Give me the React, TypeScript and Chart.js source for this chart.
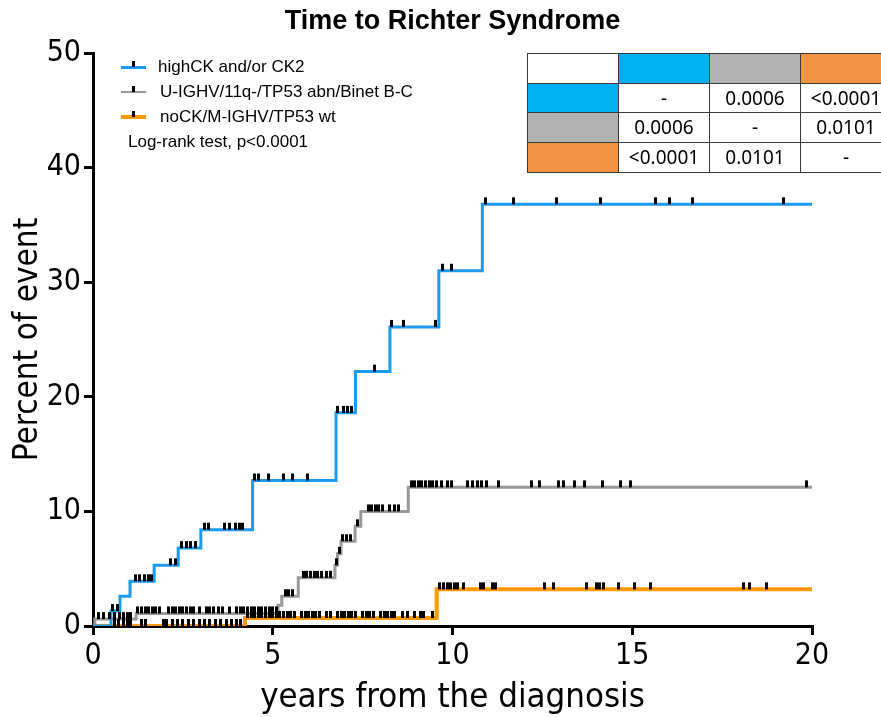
import React, { useEffect, useRef } from 'react';
import { Chart, registerables } from 'chart.js';

Chart.register(...registerables);

// ---------- data ----------
const chartTitle = 'Time to Richter Syndrome';
const xTitle = 'years from the diagnosis';
const yTitle = 'Percent of event';
const xTicks = [0, 5, 10, 15, 20];
const yTicks = [0, 10, 20, 30, 40, 50];
const seriesNames = ['highCK and/or CK2', 'U-IGHV/11q-/TP53 abn/Binet B-C', 'noCK/M-IGHV/TP53 wt'];
const testText = 'Log-rank test, p<0.0001';

// step curves: time of each step and the level after the step
const blueTimes = [0, 0.5, 0.75, 1.03, 1.7, 2.37, 3.0, 4.44, 6.76, 7.3, 8.26, 9.62, 10.83, 20];
const blueLevels = [0, 1.3, 2.6, 3.9, 5.3, 6.8, 8.4, 12.7, 18.6, 22.2, 26.1, 31.0, 36.8, 36.8];
const blueCensored = [0.55, 0.68, 1.17, 1.3, 1.42, 1.55, 1.63, 2.16, 2.3, 2.47, 2.6, 2.72, 2.84, 3.09, 3.2, 3.67, 3.8, 3.95, 4.08, 4.17, 4.5, 4.6, 4.88, 5.29, 5.54, 5.97, 6.8, 6.96, 7.08, 7.2, 7.82, 8.3, 8.63, 9.53, 9.73, 9.98, 10.93, 11.71, 12.9, 14.12, 15.64, 16.03, 16.68, 19.22];

const grayTimes = [0, 0.05, 1.2, 5.15, 5.25, 5.71, 6.73, 6.8, 6.9, 7.29, 7.45, 8.77, 20];
const grayLevels = [0, 0.6, 1.1, 1.8, 2.6, 4.2, 5.3, 6.3, 7.4, 8.7, 10.0, 12.1, 12.1];
const grayCensored = [0.15, 0.3, 0.45, 0.6, 0.75, 0.85, 0.95, 1.05, 1.25, 1.35, 1.45, 1.55, 1.65, 1.75, 1.85, 2.1, 2.2, 2.3, 2.4, 2.5, 2.6, 2.7, 2.8, 2.95, 3.15, 3.25, 3.35, 3.5, 3.6, 3.8, 4.0, 4.1, 4.2, 4.3, 4.4, 4.5, 4.6, 4.7, 4.8, 4.9, 5.0, 5.1, 5.35, 5.45, 5.55, 5.85, 5.95, 6.05, 6.15, 6.25, 6.35, 6.5, 6.6, 6.76, 6.85, 6.95, 7.05, 7.15, 7.35, 7.65, 7.75, 7.85, 7.95, 8.05, 8.25, 8.4, 8.5, 8.86, 8.95, 9.05, 9.15, 9.25, 9.35, 9.45, 9.55, 9.7, 9.85, 9.98, 10.43, 10.55, 10.7, 10.8, 10.95, 11.27, 12.2, 12.43, 12.94, 13.1, 13.4, 13.67, 14.18, 14.68, 14.94, 19.85];

const orangeTimes = [0, 4.23, 9.56, 20];
const orangeLevels = [0, 0.7, 3.2, 3.2];
const orangeCensored = [0.6, 0.7, 0.85, 0.95, 1.05, 1.35, 1.45, 1.95, 2.05, 2.2, 2.35, 2.5, 2.65, 2.8, 2.95, 3.1, 3.25, 3.4, 3.55, 3.7, 3.85, 4.0, 4.1, 4.3, 4.4, 4.5, 4.6, 4.7, 4.8, 4.9, 5.0, 5.1, 5.2, 5.3, 5.4, 5.5, 5.6, 5.8, 5.9, 6.0, 6.1, 6.2, 6.3, 6.5, 6.6, 6.8, 6.9, 7.0, 7.1, 7.2, 7.3, 7.5, 7.6, 7.7, 7.8, 8.0, 8.1, 8.2, 8.3, 8.4, 8.6, 8.75, 8.95, 9.1, 9.2, 9.45, 9.65, 9.75, 9.85, 9.95, 10.05, 10.15, 10.3, 10.77, 10.87, 11.1, 11.2, 12.55, 12.8, 13.73, 14.0, 14.1, 14.2, 14.63, 15.06, 15.51, 18.09, 18.25, 18.74];

const tableColors = ['#00b0f0', '#b2b2b2', '#f29443'];
const pValues = [
  ['-', '0.0006', '<0.0001'],
  ['0.0006', '-', '0.0101'],
  ['<0.0001', '0.0101', '-'],
];

// ---------- styles ----------
const lineColors = ['#1a9bf0', '#999999', '#ff9900'];
const lineWidths = [3, 3, 4];
const NARROW = "'Liberation Sans Narrow', 'Arial Narrow', 'DejaVu Sans Condensed', sans-serif";
const SANS = "'Liberation Sans', Arial, sans-serif";

function levelAt(times: number[], levels: number[], t: number) {
  let v = levels[0];
  for (let i = 0; i < times.length; i++) if (times[i] <= t) v = levels[i];
  return v;
}

export default function App() {
  const ref = useRef<HTMLCanvasElement>(null);

  useEffect(() => {
    if (!ref.current) return;
    const mark = document.createElement('canvas');
    mark.width = 3;
    mark.height = 16;
    const mctx = mark.getContext('2d')!;
    mctx.fillStyle = '#000';
    mctx.fillRect(0, 1, 3, 7);

    const curves = [
      [blueTimes, blueLevels, blueCensored],
      [grayTimes, grayLevels, grayCensored],
      [orangeTimes, orangeLevels, orangeCensored],
    ] as number[][][];

    const censorSets = curves.map(([t, l, c], i) => ({
      label: seriesNames[i] + ' censored',
      data: c.map((x) => ({ x, y: levelAt(t, l, x) })),
      showLine: false,
      pointStyle: mark as any,
      pointRadius: 4,
      pointHoverRadius: 4,
      borderColor: '#000',
      backgroundColor: '#000',
    }));
    const lineSets = curves.map(([t, l], i) => ({
      label: seriesNames[i],
      data: t.map((x, j) => ({ x, y: l[j] })),
      stepped: 'before' as const,
      borderColor: lineColors[i],
      borderWidth: lineWidths[i],
      pointRadius: 0,
      fill: false,
    }));

    const chart = new Chart(ref.current, {
      type: 'line',
      data: { datasets: [...censorSets, ...lineSets] as any },
      options: {
        animation: false,
        responsive: false,
        layout: { padding: { left: 0, right: 69, top: 0, bottom: 0 } },
        plugins: {
          legend: { display: false },
          tooltip: { enabled: false },
          title: {
            display: true,
            text: chartTitle,
            fullSize: false,
            color: '#000',
            font: { family: SANS, size: 27, weight: 'bold', lineHeight: 1.2 },
            padding: { top: 5, bottom: 15.6 },
          },
        },
        scales: {
          x: {
            type: 'linear',
            min: 0,
            max: 20,
            afterBuildTicks: (s: any) => {
              s.ticks = xTicks.map((v) => ({ value: v }));
            },
            afterFit: (s: any) => {
              s.height = 91;
            },
            grid: { display: true, drawOnChartArea: false, drawTicks: true, tickLength: 9, color: '#000', lineWidth: 3 },
            border: { display: true, color: '#000', width: 3 },
            ticks: { color: '#000', font: { family: NARROW, size: 30 }, padding: 3, maxRotation: 0 },
            title: {
              display: true,
              text: xTitle,
              color: '#000',
              font: { family: NARROW, size: 34.5, lineHeight: 1.0 },
              padding: { top: 0, bottom: 2 },
            },
          },
          y: {
            type: 'linear',
            min: 0,
            max: 50,
            afterBuildTicks: (s: any) => {
              s.ticks = yTicks.map((v) => ({ value: v }));
            },
            afterFit: (s: any) => {
              s.width = 93;
            },
            grid: { display: true, drawOnChartArea: false, drawTicks: true, tickLength: 9, color: '#000', lineWidth: 3 },
            border: { display: true, color: '#000', width: 3 },
            ticks: { color: '#000', font: { family: NARROW, size: 30 }, padding: 3 },
            title: {
              display: true,
              text: yTitle,
              color: '#000',
              font: { family: NARROW, size: 33, lineHeight: 1.0 },
              padding: { top: 12, bottom: 0 },
            },
          },
        },
      },
    });
    return () => chart.destroy();
  }, []);

  const legendRows = [
    { y: 67, color: lineColors[0], w: 3, textLeft: 158 },
    { y: 92, color: lineColors[1], w: 2.5, textLeft: 160 },
    { y: 117, color: lineColors[2], w: 4, textLeft: 160 },
  ];

  const cellBorder = '1.5px solid #3a3a3a';

  return (
    <div style={{ position: 'absolute', left: 0, top: 0, width: 881, height: 717, overflow: 'hidden', background: '#fff' }}>
      <canvas ref={ref} width={881} height={717} style={{ display: 'block' }} />
      {legendRows.map((r, i) => (
        <React.Fragment key={i}>
          <div style={{ position: 'absolute', left: 121, top: r.y - r.w / 2, width: 25, height: r.w, background: r.color }} />
          <div style={{ position: 'absolute', left: 132, top: r.y - 6, width: 2.5, height: 6, background: '#000' }} />
          <div
            style={{
              position: 'absolute',
              left: r.textLeft,
              top: r.y,
              transform: 'translateY(-50%)',
              font: `17px ${SANS}`,
              color: '#000',
              whiteSpace: 'nowrap',
            }}
          >
            {seriesNames[i]}
          </div>
        </React.Fragment>
      ))}
      <div
        style={{
          position: 'absolute',
          left: 128,
          top: 142,
          transform: 'translateY(-50%)',
          font: `17px ${SANS}`,
          color: '#000',
          whiteSpace: 'nowrap',
        }}
      >
        {testText}
      </div>
      <div
        style={{
          position: 'absolute',
          left: 527,
          top: 53,
          display: 'grid',
          gridTemplateColumns: 'repeat(4, 91px)',
          gridTemplateRows: 'repeat(4, 29.7px)',
          borderLeft: cellBorder,
          borderTop: cellBorder,
          boxSizing: 'border-box',
          fontFamily: "'Noto Sans', sans-serif",
          fontSize: 19,
          color: '#000',
        }}
      >
        {[0, 1, 2, 3].map((r) =>
          [0, 1, 2, 3].map((c) => {
            let bg = '#fff';
            let txt = '';
            if (r === 0 && c > 0) bg = tableColors[c - 1];
            else if (c === 0 && r > 0) bg = tableColors[r - 1];
            else if (r > 0 && c > 0) txt = pValues[r - 1][c - 1];
            return (
              <div
                key={`${r}-${c}`}
                style={{
                  background: bg,
                  borderRight: cellBorder,
                  borderBottom: cellBorder,
                  boxSizing: 'border-box',
                  display: 'flex',
                  alignItems: 'center',
                  justifyContent: 'center',
                  whiteSpace: 'nowrap',
                  overflow: 'visible',
                  lineHeight: 1,
                }}
              >
                {txt}
              </div>
            );
          })
        )}
      </div>
    </div>
  );
}
